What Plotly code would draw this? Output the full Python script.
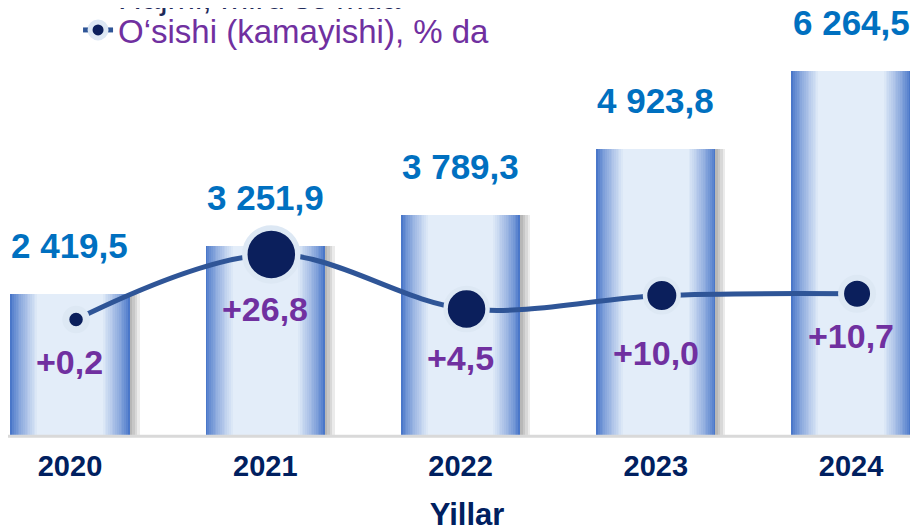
import plotly.graph_objects as go

# data
years = ["2020", "2021", "2022", "2023", "2024"]
volume = [2419.5, 3251.9, 3789.3, 4923.8, 6264.5]   # mlrd so'm
growth = [0.2, 26.8, 4.5, 10.0, 10.7]               # %

vol_labels = [f"{v:,.1f}".replace(",", " ").replace(".", ",") for v in volume]
growth_labels = [f"+{g:.1f}".replace(".", ",") for g in growth]

# style
BAR_W = 0.61
EDGE = (74, 119, 201)
CENTER = (227, 237, 249)
marker_sizes = [20.5, 53, 42, 33.5, 32]
marker_rings = [7, 5.5, 4.5, 4.5, 6]
label_drop = [42, 55, 49, 57, 42]

SANS = "Liberation Sans, Arial, sans-serif"


def mix(a, b, t):
    return "rgb(%d,%d,%d)" % tuple(round(a[i] + (b[i] - a[i]) * t) for i in range(3))


fig = go.Figure()

# soft shadow to the right of every bar
for k in range(1, 5):
    fig.add_trace(
        go.Bar(
            x=years, y=volume, width=BAR_W, offset=-BAR_W / 2 + k * 0.013,
            marker=dict(color="rgba(0,0,0,0.08)", line_width=0),
            showlegend=False, hoverinfo="skip",
        )
    )

# fake horizontal gradient: narrower, lighter bars stacked on top
n = 16
for i in range(n):
    t = i / (n - 1)
    fig.add_trace(
        go.Bar(
            x=years, y=volume, width=BAR_W * (1 - 0.45 * t),
            marker=dict(color=mix(EDGE, CENTER, t ** 0.8), line_width=0),
            name="Hajmi, mlrd so‘mda",
            showlegend=(i == 8),
            hovertemplate="%{x}: %{y}<extra></extra>",
        )
    )

# growth line
fig.add_trace(
    go.Scatter(
        x=years, y=growth, xaxis="x2", yaxis="y2",
        mode="lines+markers",
        line=dict(color="#2f5597", width=5, shape="spline", smoothing=1.0),
        marker=dict(size=marker_sizes, color="#0b1f5c", opacity=1,
                    line=dict(color="#dde8f4", width=marker_rings)),
        name="<span style='color:#7030a0'>O‘sishi (kamayishi), % da</span>",
        legend="legend2",
        hovertemplate="%{x}: %{y}%<extra></extra>",
    )
)

# value labels above the bars
for i, (v, lab) in enumerate(zip(volume, vol_labels)):
    fig.add_annotation(
        x=i, y=v, text=f"<b>{lab}</b>", showarrow=False,
        yanchor="bottom", yshift=27,
        font=dict(family=SANS, size=35, color="#0070c0"),
    )

# growth labels under the markers
for i, (g, lab, d) in enumerate(zip(growth, growth_labels, label_drop)):
    fig.add_annotation(
        x=i, y=g, yref="y2", text=f"<b>{lab}</b>", showarrow=False,
        yanchor="middle", yshift=-d,
        font=dict(family=SANS, size=34, color="#7030a0"),
    )

# baseline
fig.add_shape(type="line", xref="paper", yref="paper", x0=-0.01, x1=1, y0=-0.003, y1=-0.003,
              line=dict(color="#d9d9d9", width=3), layer="above")

x_range = [-0.3175, 4.384]
legend_style = dict(xanchor="left", yanchor="middle", bgcolor="rgba(0,0,0,0)",
                    font=dict(family=SANS, size=33, color="#1f2a5a"))
fig.update_layout(
    width=918, height=531,
    margin=dict(l=0, r=0, t=0, b=104, autoexpand=False),
    paper_bgcolor="white", plot_bgcolor="rgba(0,0,0,0)",
    barmode="overlay", bargap=0,
    xaxis=dict(
        type="category", range=x_range, showgrid=False, ticks="", showline=False,
        tickfont=dict(family=SANS, size=29, color="#002060", weight=700),
        ticklabelstandoff=11,
        title=dict(text="Yillar", standoff=22,
                   font=dict(family=SANS, size=31, color="#002060", weight=700)),
    ),
    xaxis2=dict(type="category", overlaying="x",
                range=[x_range[0] - 0.031, x_range[1] - 0.031], visible=False),
    yaxis=dict(range=[0, 7349], visible=False),
    yaxis2=dict(range=[-47, 127.5], overlaying="y", visible=False),
    legend=dict(x=0.0763, y=1.028, **legend_style),
    legend2=dict(x=0.0763, y=0.9485, **legend_style),
)

fig.write_html("out.html")
